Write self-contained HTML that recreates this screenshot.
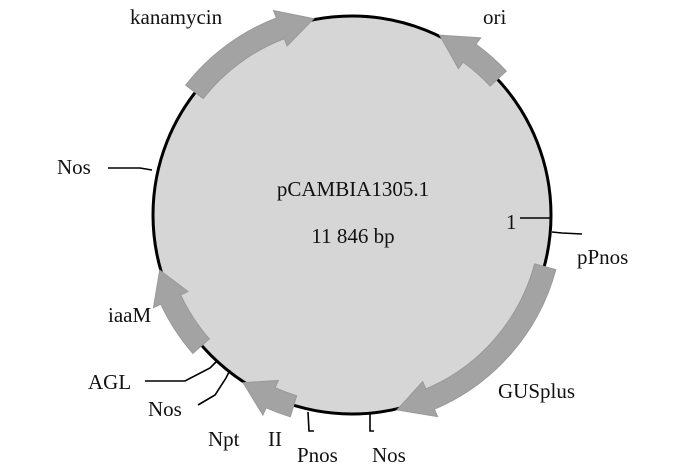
<!DOCTYPE html>
<html><head><meta charset="utf-8"><style>
html,body{margin:0;padding:0;background:#fff;}
svg{display:block;}
text{font-family:"Liberation Serif",serif;font-size:21px;fill:#111;}
</style></head><body>
<svg id="s" width="700" height="466" viewBox="0 0 700 466" xmlns="http://www.w3.org/2000/svg">
<circle cx="352" cy="215" r="199" fill="#d6d6d6" stroke="#000" stroke-width="3"/>
<g id="arrows"></g>
<g stroke="#000" stroke-width="1.6" fill="none">
<path d="M108 168 L140 168 L152 170"/>
<path d="M520 218 L550 218"/>
<path d="M552 232 L562 233 L582 234"/>
<path d="M145 381 L185 381 L210 368 L216 362"/>
<path d="M198 405 L215 395 L226 378 L230 370"/>
<path d="M308 412 L309 431 L314 431"/>
<path d="M370 413 L370 431 L374 431"/>
</g>
<text x="130" y="24">kanamycin</text>
<text x="483" y="24">ori</text>
<text x="57" y="174">Nos</text>
<text x="353" y="196" text-anchor="middle">pCAMBIA1305.1</text>
<text x="353" y="243" text-anchor="middle">11 846 bp</text>
<text x="506" y="229">1</text>
<text x="577" y="264">pPnos</text>
<text x="498" y="398">GUSplus</text>
<text x="108" y="322">iaaM</text>
<text x="88" y="389">AGL</text>
<text x="148" y="416">Nos</text>
<text x="208" y="446">Npt</text>
<text x="268" y="446">II</text>
<text x="297" y="462">Pnos</text>
<text x="372" y="462">Nos</text>
</svg>
<script>
(function(){
var cx=352,cy=215,R=200,w=11,hw=19;
function P(a,r){var t=a*Math.PI/180;return (cx+r*Math.cos(t)).toFixed(1)+" "+(cy+r*Math.sin(t)).toFixed(1);}
function arrow(a0,a1,headLen){
 var dir=a1>a0?1:-1;
 var ah=a1-dir*headLen;
 var sweep=dir>0?1:0, rs=dir>0?0:1;
 var d="M"+P(a0,R-w)+" A"+(R-w)+" "+(R-w)+" 0 0 "+sweep+" "+P(ah,R-w)+
 " L"+P(ah,R-hw)+" L"+P(a1,R)+" L"+P(ah,R+hw)+" L"+P(ah,R+w)+
 " A"+(R+w)+" "+(R+w)+" 0 0 "+rs+" "+P(a0,R+w)+" Z";
 return '<path d="'+d+'" fill="#a3a3a3" stroke="#999" stroke-width="1"/>';
}
var g=document.getElementById("arrows");
g.innerHTML=arrow(-142,-101,10)+arrow(-43,-64,10)+arrow(15,77,10)+arrow(107,123,9)+arrow(139,164,9);
})();
</script>
</body></html>
